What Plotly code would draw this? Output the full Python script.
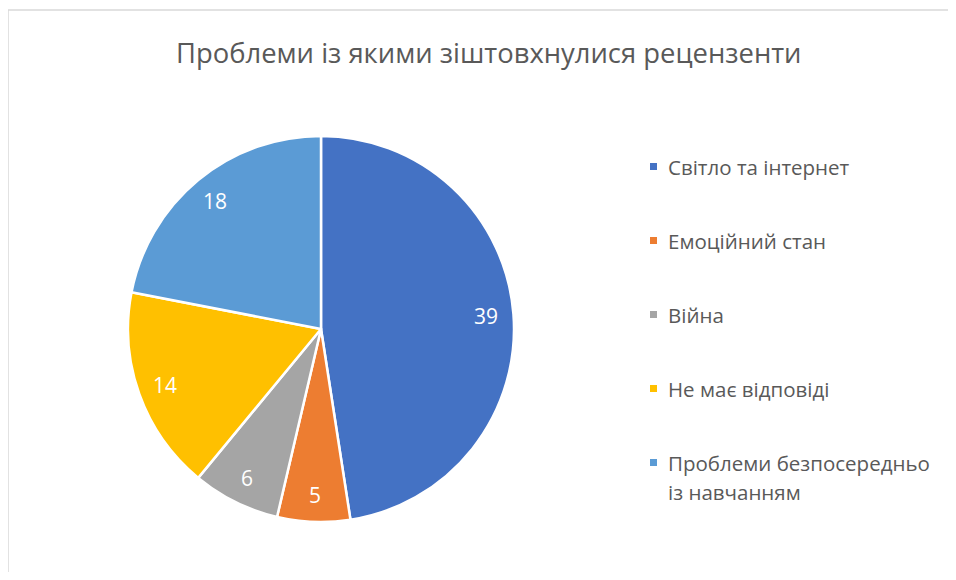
import math
import plotly.graph_objects as go

title = "Проблеми із якими зіштовхнулися рецензенти"
categories = ["Світло та інтернет", "Емоційний стан", "Війна", "Не має відповіді",
              "Проблеми безпосередньо із навчанням"]
values = [39, 5, 6, 14, 18]
colors = ["#4472C4", "#ED7D31", "#A5A5A5", "#FFC000", "#5B9BD5"]

OFF = 8  # page body margin
W, H = 956 - OFF, 580 - 2 * OFF
FONT = "Open Sans"
TEXT_COLOR = "#595959"

def px(x):
    return (x - OFF) / W

def py(y):
    return 1 - (y - OFF) / H

# pie geometry (screen pixels)
CX, CY, R = 321, 329, 193

fig = go.Figure()
fig.add_trace(go.Pie(
    labels=categories,
    values=values,
    marker=dict(colors=colors, line=dict(color="white", width=2.5)),
    sort=False,
    direction="clockwise",
    rotation=0,
    textinfo="none",
    domain=dict(x=[px(CX - R), px(CX + R)], y=[py(CY + R), py(CY - R)]),
    showlegend=False,
    hoverinfo="label+value",
))

annotations = [dict(
    text=title, x=px(488.5), y=py(52), xref="paper", yref="paper",
    xanchor="center", yanchor="middle", showarrow=False,
    font=dict(family=FONT, size=27.4, color=TEXT_COLOR),
)]
shapes = [
    dict(type="line", xref="paper", yref="paper", x0=px(8), x1=px(970), y0=py(10), y1=py(10),
         line=dict(color="#D9D9D9", width=1.5)),
    dict(type="line", xref="paper", yref="paper", x0=px(8), x1=px(8), y0=py(10), y1=py(600),
         line=dict(color="#D9D9D9", width=1.5)),
]

# value labels placed near the outer edge of each slice, at the slice's mid-angle
total = sum(values)
cum = 0
LABEL_R = 0.86 * R
for v in values:
    mid = (cum + v / 2) / total * 2 * math.pi
    cum += v
    lx = CX + LABEL_R * math.sin(mid)
    ly = CY - LABEL_R * math.cos(mid)
    annotations.append(dict(
        text=str(v), x=px(lx), y=py(ly), xref="paper", yref="paper",
        xanchor="center", yanchor="middle", showarrow=False,
        font=dict(family=FONT, size=21, color="white"),
    ))

# Legend (drawn manually to reproduce spacing)
legend_y0, legend_step, line_step = 166.5, 74, 29
def wrap(s, maxlen=24):
    words, lines, cur = s.split(" "), [], ""
    for w in words:
        if cur and len(cur) + 1 + len(w) > maxlen:
            lines.append(cur)
            cur = w
        else:
            cur = (cur + " " + w).strip()
    lines.append(cur)
    return lines

for i, (cat, col) in enumerate(zip(categories, colors)):
    yc = legend_y0 + i * legend_step
    shapes.append(dict(type="rect", xref="paper", yref="paper",
                       x0=px(650), x1=px(657), y0=py(yc - 3.5), y1=py(yc + 3.5),
                       fillcolor=col, line=dict(width=0)))
    for j, line in enumerate(wrap(cat)):
        annotations.append(dict(
            text=line, x=px(666), y=py(yc + j * line_step), xref="paper", yref="paper",
            xanchor="left", yanchor="middle", showarrow=False,
            font=dict(family=FONT, size=20.5, color=TEXT_COLOR),
        ))

fig.update_layout(
    width=W, height=H,
    margin=dict(l=0, r=0, t=0, b=0),
    paper_bgcolor="white",
    plot_bgcolor="white",
    annotations=annotations,
    shapes=shapes,
    showlegend=False,
)

fig.write_html("out.html")
